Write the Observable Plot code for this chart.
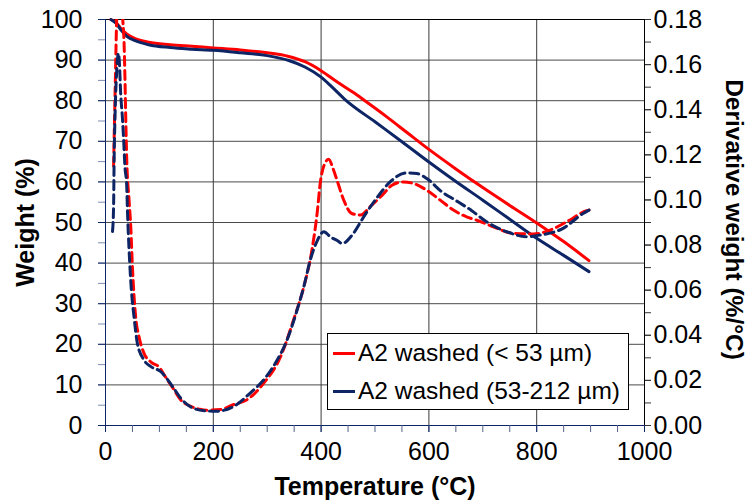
<!DOCTYPE html>
<html>
<head>
<meta charset="utf-8">
<script src="https://cdn.jsdelivr.net/npm/d3@7"></script>
<script src="https://cdn.jsdelivr.net/npm/@observablehq/plot@0.6"></script>
<style>
  html, body { margin: 0; padding: 0; background: #fff; }
  #wrap { position: relative; width: 754px; height: 504px; font-family: "Liberation Sans", Arial, sans-serif; }
  #legend { position: absolute; left: 327px; top: 333px; width: 300px; height: 75px; border: 1px solid #000; background: #fff; box-sizing: content-box; }
  .row { position: absolute; left: 0; height: 30px; display: flex; align-items: center; font-size: 24.5px; color: #000; white-space: nowrap; }
  .sw { width: 22px; height: 3px; margin-left: 5px; margin-right: 3px; }
</style>
</head>
<body>
<div id="wrap"></div>
<script>
// ---- data ----
const seriesNames = ["A2 washed (< 53 µm)", "A2 washed (53-212 µm)"];
const seriesColors = ["#ff0000", "#0d2565"];

const xTicks = [0, 200, 400, 600, 800, 1000];
const yTicks = [0, 10, 20, 30, 40, 50, 60, 70, 80, 90, 100];
const y2Ticks = [0, 0.02, 0.04, 0.06, 0.08, 0.10, 0.12, 0.14, 0.16, 0.18];
const y2Max = 0.18;

// weight (%) vs temperature (°C)
const weightSmall = [[10,100],[20,99.2],[30,97.6],[40,96.4],[55,95.3],[80,94.4],[120,93.8],[160,93.4],[200,93.0],[250,92.5],[300,91.8],[340,90.9],[370,89.6],[400,87.4],[430,84.6],[460,82.0],[480,80.1],[520,76.2],[560,72.1],[600,68.0],[650,63.2],[700,58.6],[750,54.2],[800,49.9],[850,45.3],[897,40.6]];
const weightLarge = [[10,100],[20,99.0],[30,97.2],[40,95.8],[55,94.8],[80,93.8],[120,93.1],[160,92.7],[200,92.4],[250,91.8],[300,91.1],[340,89.9],[370,88.3],[400,85.8],[420,83.4],[445,80.2],[500,74.8],[550,69.9],[600,64.9],[650,60.1],[700,55.5],[750,50.8],[800,46.1],[850,41.9],[897,37.9]];

// derivative weight (%/°C) vs temperature (°C)
const derivSmall = [[15,0.115],[18,0.15],[21,0.182],[25,0.195],[29,0.19],[32,0.18],[34.4,0.170],[36,0.155],[37.5,0.137],[39.4,0.118],[43.7,0.100],[46.9,0.088],[50,0.070],[56,0.048],[62,0.0395],[71.5,0.032],[85,0.028],[99,0.026],[110,0.022],[124,0.017],[139,0.0115],[158,0.0085],[175,0.0072],[189,0.0068],[213,0.0071],[238,0.0093],[263,0.0115],[294,0.0189],[325,0.0306],[349,0.0469],[368,0.0616],[383,0.0778],[392.6,0.094],[398.7,0.108],[405,0.115],[414,0.118],[422,0.114],[429.6,0.1087],[442,0.0999],[457,0.094],[473,0.0933],[491,0.097],[513,0.102],[531.5,0.1065],[553,0.108],[571.5,0.1073],[596,0.1043],[621,0.0999],[645.5,0.0955],[670,0.0925],[689,0.091],[719.6,0.0881],[756.7,0.0852],[793.7,0.0849],[824.6,0.0866],[855.5,0.0903],[892.6,0.0952],[897,0.0955]];
const derivLarge = [[13,0.086],[15,0.097],[16,0.1176],[18,0.14],[21,0.158],[24,0.165],[26,0.16],[28,0.148],[31.5,0.136],[34.4,0.123],[35.7,0.116],[39.4,0.106],[40.7,0.0955],[43.7,0.078],[48,0.060],[53,0.048],[59,0.0366],[71.5,0.029],[85,0.026],[102,0.024],[124,0.0174],[140,0.012],[160,0.008],[185,0.0065],[205,0.0063],[238,0.0085],[269,0.0145],[293.7,0.0203],[318.5,0.029],[337,0.038],[355.6,0.0513],[368,0.0616],[380,0.0734],[393,0.082],[405,0.0859],[418,0.0835],[430,0.082],[439,0.0807],[460,0.0852],[479,0.0925],[503.7,0.101],[528,0.108],[559,0.112],[578,0.1117],[596,0.1095],[624,0.1036],[649,0.0999],[679.6,0.0952],[707,0.0903],[744.4,0.0859],[781,0.0837],[806,0.0844],[849,0.0874],[886,0.094],[897,0.0955]];

// ---- chart ----
const toY = v => v * 100 / y2Max;        // map derivative onto the weight scale
const navy = seriesColors[1];
const font = "'Liberation Sans', Arial, sans-serif";
const tickFont = 25;

const chart = Plot.plot({
  width: 754,
  height: 504,
  marginLeft: 105,
  marginRight: 110,
  marginTop: 19,
  marginBottom: 79,
  style: { fontFamily: font, fontSize: tickFont + "px", background: "#fff", color: "#000", overflow: "visible" },
  x: { domain: [0, 1000] },
  y: { domain: [0, 100] },
  marks: [
    // grid
    Plot.ruleY(yTicks.filter(v => v > 0 && v < 100), { stroke: "#4a4a4a", strokeWidth: 1 }),
    Plot.ruleX(xTicks.filter(v => v > 0 && v < 1000), { stroke: "#3a3a3a", strokeWidth: 1 }),
    // frame lines
    Plot.ruleY([100], { stroke: "#000" }),
    Plot.ruleX([1000], { stroke: "#000" }),
    Plot.ruleX([0], { stroke: navy }),
    Plot.ruleY([0], { stroke: navy }),
    // x axis
    Plot.axisX(d3.range(0, 1001, 50), { anchor: "bottom", tickSize: 7, tickFormat: () => "", stroke: "#55608a", label: null }),
    Plot.axisX(xTicks, { anchor: "bottom", tickSize: 7, tickPadding: 10, fontSize: tickFont, stroke: navy, label: null, tickFormat: d => String(d) }),
    // left y axis
    Plot.axisY(d3.range(0, 101, 5), { anchor: "left", tickSize: 7, tickFormat: () => "", stroke: "#7f8db5", label: null }),
    Plot.axisY(yTicks, { anchor: "left", tickSize: 7, tickPadding: 16, fontSize: tickFont, stroke: navy, label: null, tickFormat: d => String(d) }),
    // right y axis (derivative)
    Plot.axisY(d3.range(0, 19).map(i => toY(i / 100)), { anchor: "right", tickSize: 6, tickFormat: () => "", stroke: "#333", label: null }),
    Plot.axisY(y2Ticks.map(toY), { anchor: "right", tickSize: 6, tickPadding: 3, fontSize: tickFont, stroke: "#333", label: null, tickFormat: d => (d * y2Max / 100).toFixed(2) }),
    // weight curves
    Plot.line(weightSmall, { x: d => d[0], y: d => d[1], stroke: seriesColors[0], strokeWidth: 3, curve: "monotone-x" }),
    Plot.line(weightLarge, { x: d => d[0], y: d => d[1], stroke: seriesColors[1], strokeWidth: 3, curve: "monotone-x" }),
    // derivative curves
    Plot.line(derivSmall, { x: d => d[0], y: d => toY(d[1]), stroke: seriesColors[0], strokeWidth: 3, strokeDasharray: "9,5", curve: "monotone-x", clip: true }),
    Plot.line(derivLarge, { x: d => d[0], y: d => toY(d[1]), stroke: seriesColors[1], strokeWidth: 3, strokeDasharray: "9,5", curve: "monotone-x", clip: true }),
    // axis titles
    Plot.text(["Temperature (°C)"], { frameAnchor: "bottom", dy: 61, lineAnchor: "middle", textAnchor: "middle", text: d => d, fontSize: 25, fontWeight: "bold", fill: "#000" }),
    Plot.text(["Weight (%)"], { frameAnchor: "left", dx: -80, rotate: -90, lineAnchor: "middle", textAnchor: "middle", text: d => d, fontSize: 25, fontWeight: "bold", fill: "#000" }),
    Plot.text(["Derivative weight (%/°C)"], { frameAnchor: "right", dx: 89, dy: -3, rotate: 90, lineAnchor: "middle", textAnchor: "middle", text: d => d, fontSize: 24.5, fontWeight: "bold", fill: "#000" })
  ]
});

const wrap = document.getElementById("wrap");
wrap.appendChild(chart);

// legend
const legend = document.createElement("div");
legend.id = "legend";
seriesNames.forEach((name, i) => {
  const row = document.createElement("div");
  row.className = "row";
  row.style.top = (4 + i * 38) + "px";
  const sw = document.createElement("div");
  sw.className = "sw";
  sw.style.background = seriesColors[i];
  const label = document.createElement("span");
  label.textContent = name;
  row.appendChild(sw);
  row.appendChild(label);
  legend.appendChild(row);
});
wrap.appendChild(legend);
</script>
</body>
</html>
